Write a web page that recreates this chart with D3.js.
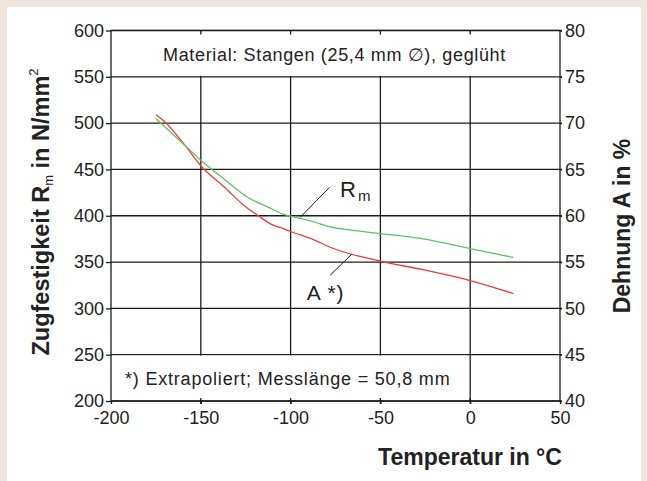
<!DOCTYPE html>
<html lang="de">
<head>
<meta charset="UTF-8">
<title>Zugfestigkeit und Dehnung</title>
<script src="https://d3js.org/d3.v7.min.js"></script>
<style>
  body { margin: 0; }
  svg text { font-family: "Liberation Sans", Arial, sans-serif; fill: #222; }
</style>
</head>
<body>
<script>
  // Zugfestigkeit Rm (linke Achse, N/mm2)
  var tempRm = [-175, -161, -150, -137, -124, -111, -104, -100, -87, -78, -66, -50, -27, 0, 24];
  var rm = [505, 480, 460, 439.5, 420, 408, 401.5, 399.5, 393.4, 388, 384.5, 380.8, 375.2, 364.5, 355];

  // Dehnung A (rechte Achse, %)
  var tempA = [-175, -171, -160, -150, -137, -124, -118, -111, -104, -100, -87, -78, -50, -27, 0, 24];
  var dehnung = [70.9, 70.3, 67.9, 65.4, 63.1, 60.8, 60.0, 59.1, 58.6, 58.3, 57.4, 56.6, 55.1, 54.2, 53.0, 51.6];

  var xTicks = [-200, -150, -100, -50, 0, 50];
  var yTicks = [200, 250, 300, 350, 400, 450, 500, 550, 600];
  var y2Ticks = [40, 45, 50, 55, 60, 65, 70, 75, 80];

  var width = 647, height = 481;
  var plotL = 111, plotR = 560, plotT = 30.5, plotB = 401;

  var svg = d3.select("body").append("svg")
    .attr("width", width)
    .attr("height", height);

  svg.append("rect").attr("width", width).attr("height", height).attr("fill", "#efe5dc");
  svg.append("rect").attr("x", 7).attr("y", 7).attr("width", 634).attr("height", height - 7).attr("fill", "#fff");

  var x = d3.scaleLinear().domain([-200, 50]).range([plotL, plotR]);
  var y = d3.scaleLinear().domain([200, 600]).range([plotB, plotT]);
  var y2 = d3.scaleLinear().domain([40, 80]).range([plotB, plotT]);

  var ink = "#1c1c1c";

  // gitter
  var grid = svg.append("g").attr("stroke", ink).attr("stroke-width", 1.3);
  grid.selectAll(".h").data(yTicks).enter().append("line")
    .attr("x1", plotL).attr("x2", plotR + 2)
    .attr("y1", d => y(d)).attr("y2", d => y(d));
  grid.selectAll(".v").data(xTicks.slice(1, -1)).enter().append("line")
    .attr("x1", d => x(d)).attr("x2", d => x(d))
    .attr("y1", plotT).attr("y2", plotB);

  // textfelder verdecken das gitter
  svg.append("rect")
    .attr("x", plotL + 1).attr("y", y(600) + 1)
    .attr("width", plotR - plotL - 2).attr("height", y(550) - y(600) - 2)
    .attr("fill", "#fff");
  svg.append("rect")
    .attr("x", plotL + 1).attr("y", y(250) + 1)
    .attr("width", x(-3) - plotL).attr("height", y(200) - y(250) - 2)
    .attr("fill", "#fff");

  // kleine innere striche oben und unten
  var inner = svg.append("g").attr("stroke", ink).attr("stroke-width", 1.3);
  inner.selectAll(".t").data(xTicks.slice(1, -1)).enter().append("line")
    .attr("x1", d => x(d)).attr("x2", d => x(d))
    .attr("y1", plotT).attr("y2", plotT + 4);
  inner.selectAll(".b").data(xTicks.slice(1, -1)).enter().append("line")
    .attr("x1", d => x(d)).attr("x2", d => x(d))
    .attr("y1", plotB - 3).attr("y2", plotB + 3);

  // kurven
  var lineRm = d3.line().x((d, i) => x(tempRm[i])).y(d => y(d)).curve(d3.curveMonotoneX);
  var lineA = d3.line().x((d, i) => x(tempA[i])).y(d => y2(d)).curve(d3.curveMonotoneX);

  svg.append("path").datum(dehnung)
    .attr("fill", "none").attr("stroke", "#ee3a3a").attr("stroke-width", 1.3)
    .attr("d", lineA);
  svg.append("path").datum(rm)
    .attr("fill", "none").attr("stroke", "#5cc65c").attr("stroke-width", 1.3)
    .attr("d", lineRm);

  // rahmen
  svg.append("rect")
    .attr("x", plotL).attr("y", plotT)
    .attr("width", plotR - plotL).attr("height", plotB - plotT)
    .attr("fill", "none").attr("stroke", ink).attr("stroke-width", 1.3);

  // achsen
  var fmt = d => String(d);
  var axL = svg.append("g").attr("transform", `translate(${plotL},0)`)
    .call(d3.axisLeft(y).tickValues(yTicks).tickSize(5).tickPadding(2).tickFormat(fmt));
  var axR = svg.append("g").attr("transform", `translate(${plotR},0)`)
    .call(d3.axisRight(y2).tickValues(y2Ticks).tickSize(2).tickPadding(3).tickFormat(fmt));
  var axB = svg.append("g").attr("transform", `translate(0,${plotB})`)
    .call(d3.axisBottom(x).tickValues(xTicks).tickSize(3).tickPadding(7).tickFormat(fmt));

  [axL, axR, axB].forEach(function(ax) {
    ax.select(".domain").remove();
    ax.selectAll(".tick line").attr("stroke", ink).attr("stroke-width", 1.3);
    ax.selectAll(".tick text")
      .style("font-family", "'Liberation Sans', Arial, sans-serif")
      .style("font-size", "18px")
      .attr("fill", "#2a2a2a");
  });

  // texte im diagramm
  svg.append("text")
    .attr("x", x(-75) - 1).attr("y", 61)
    .attr("text-anchor", "middle")
    .style("font-size", "18px")
    .style("letter-spacing", "0.65px")
    .text("Material: Stangen (25,4 mm \u2205), geglüht");

  svg.append("text")
    .attr("x", 125).attr("y", 385)
    .style("font-size", "18px")
    .style("letter-spacing", "0.8px")
    .text("*) Extrapoliert; Messlänge = 50,8 mm");

  // beschriftung Rm
  svg.append("line")
    .attr("x1", x(-78.4)).attr("y1", y(430.6))
    .attr("x2", x(-94.7)).attr("y2", y(398.2))
    .attr("stroke", ink).attr("stroke-width", 1);
  var rmLab = svg.append("text")
    .attr("x", x(-72.5)).attr("y", y(420))
    .style("font-size", "22px");
  rmLab.append("tspan").text("R");
  rmLab.append("tspan").attr("dx", 2).attr("dy", 4).style("font-size", "15px").text("m");

  // beschriftung A
  svg.append("line")
    .attr("x1", x(-78)).attr("y1", y2(53.58))
    .attr("x2", x(-65.9)).attr("y2", y2(55.85))
    .attr("stroke", ink).attr("stroke-width", 1);
  svg.append("text")
    .attr("x", x(-91)).attr("y", y2(50.9))
    .style("font-size", "21px")
    .style("letter-spacing", "1px")
    .text("A *)");

  // achsentitel
  svg.append("text")
    .attr("x", 470).attr("y", 465)
    .attr("text-anchor", "middle")
    .style("font-size", "23px").style("font-weight", "bold")
    .text("Temperatur in \u00b0C");

  svg.append("text")
    .attr("transform", "translate(630,226) rotate(-90)")
    .attr("text-anchor", "middle")
    .style("font-size", "23px").style("font-weight", "bold")
    .text("Dehnung A in %");

  var yLab = svg.append("text")
    .attr("transform", "translate(49,212) rotate(-90)")
    .attr("text-anchor", "middle")
    .style("font-size", "23.5px").style("font-weight", "bold");
  yLab.append("tspan").text("Zugfestigkeit R");
  yLab.append("tspan").attr("dy", 4).style("font-size", "13px").style("font-weight", "normal").text("m");
  yLab.append("tspan").attr("dy", -4).text(" in N/mm");
  yLab.append("tspan").attr("dy", -11).style("font-size", "13px").style("font-weight", "normal").text("2");
</script>
</body>
</html>
